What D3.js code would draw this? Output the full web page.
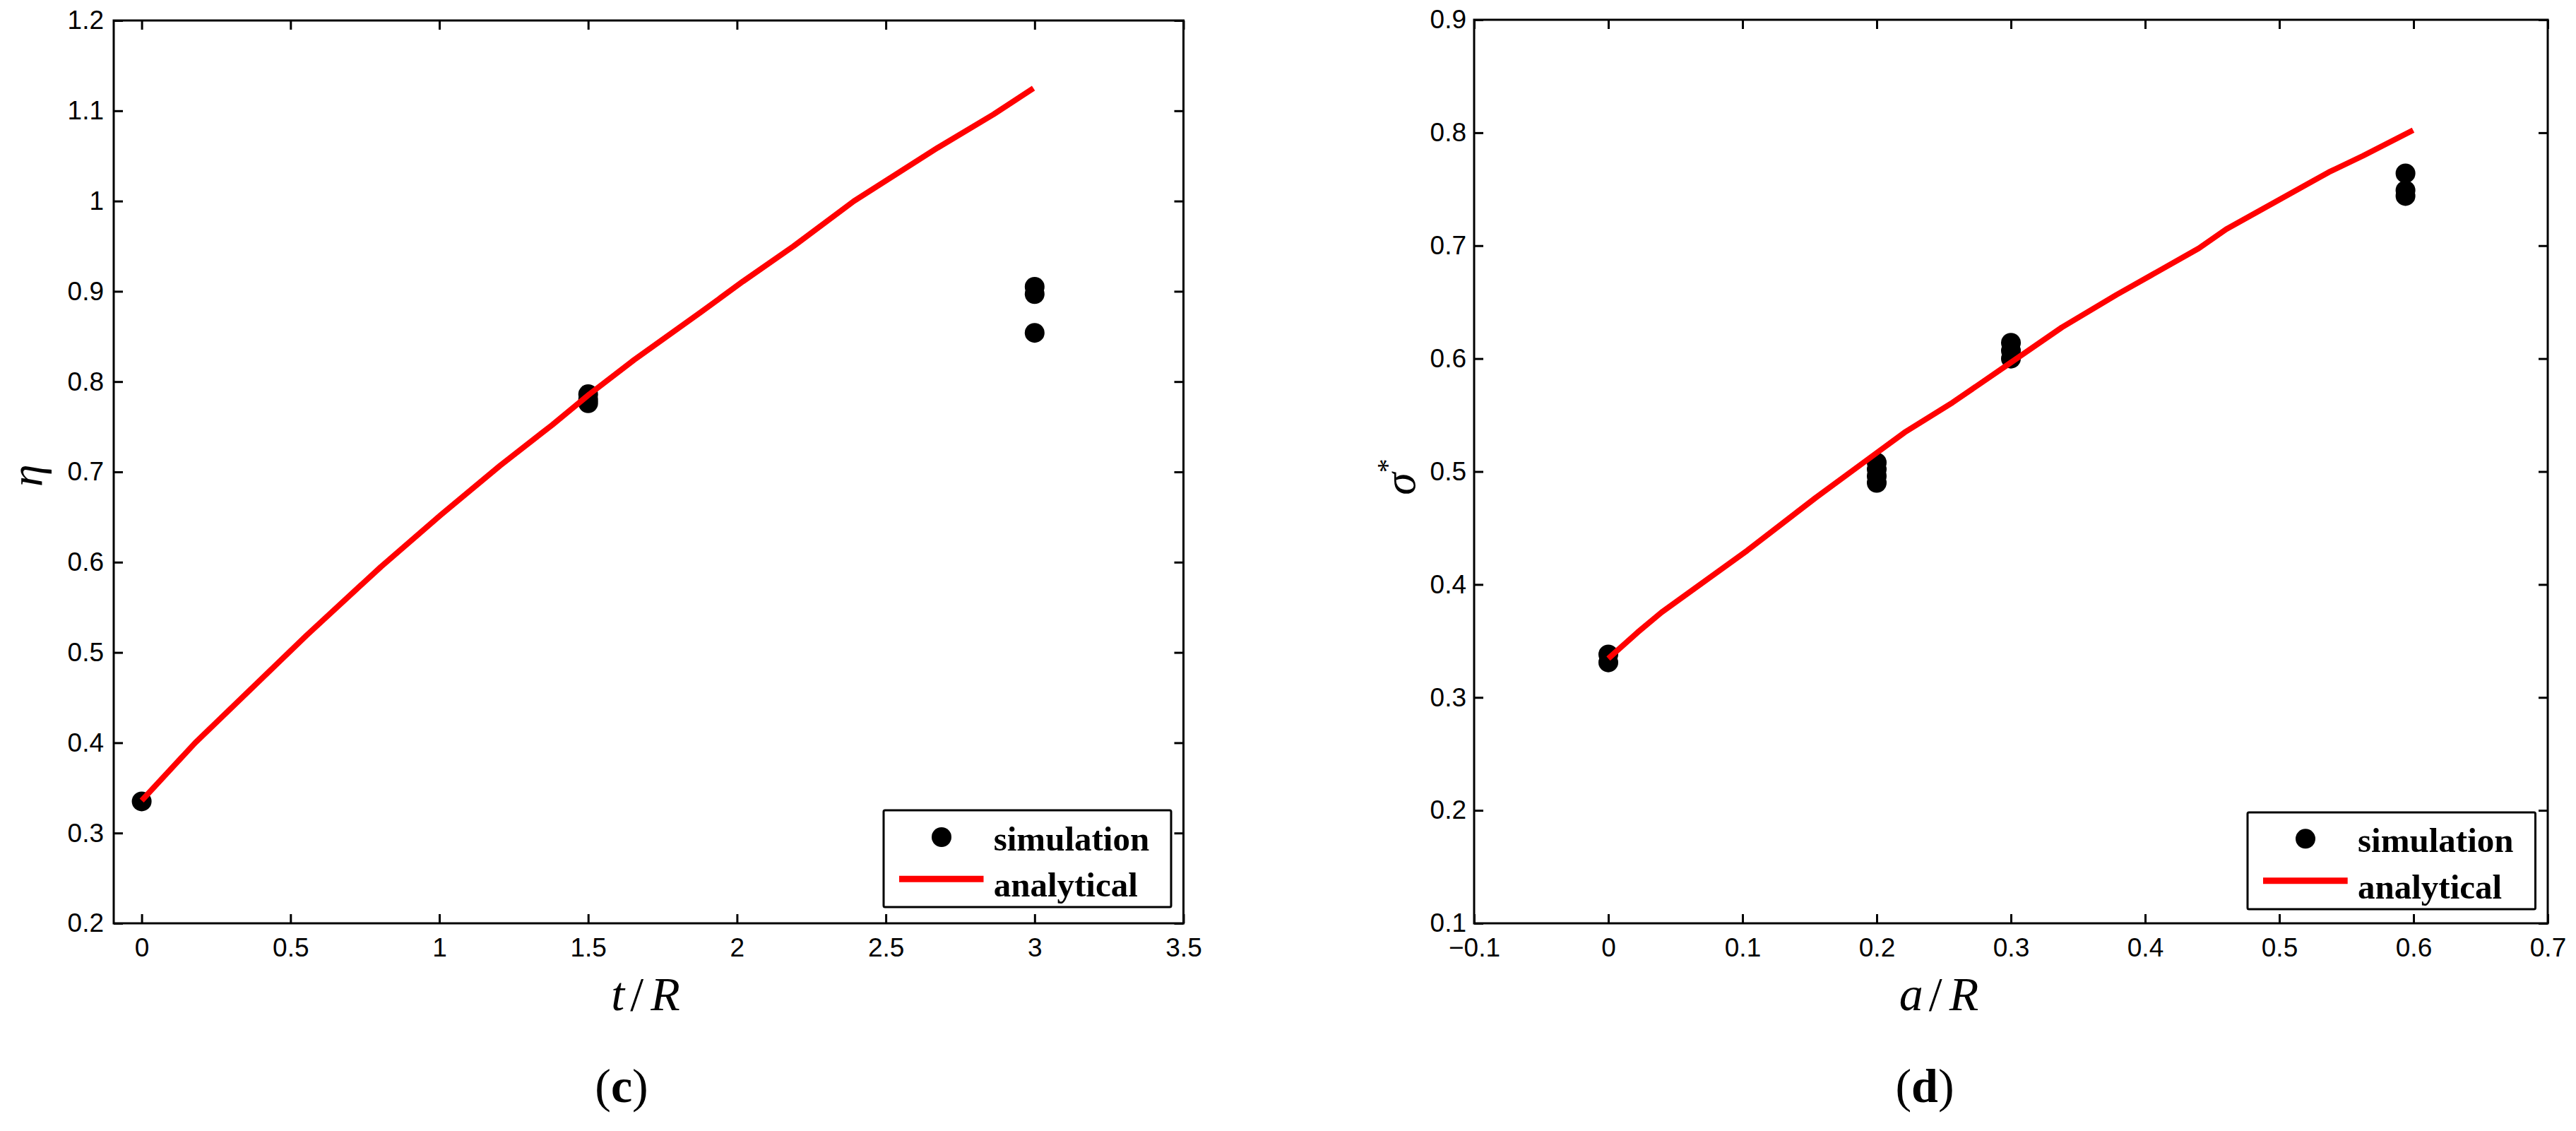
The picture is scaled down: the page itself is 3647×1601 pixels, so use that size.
<!DOCTYPE html>
<html>
<head>
<meta charset="utf-8">
<script src="https://cdn.jsdelivr.net/npm/d3@7"></script>
<style>
  html, body { margin: 0; padding: 0; background: #ffffff; }
  svg { display: block; }
</style>
</head>
<body>
<svg id="chart" width="3647" height="1601"></svg>
<script>
// ---------------- DATA ----------------
// Panel (c): eta vs t/R
const tCurve   = [0, 0.18, 0.554, 0.804, 1.004, 1.204, 1.379, 1.504, 1.654, 1.879, 2.02, 2.19, 2.393, 2.674, 2.862, 2.996];
const etaCurve = [0.336, 0.400, 0.519, 0.595, 0.652, 0.707, 0.752, 0.786, 0.824, 0.877, 0.911, 0.950, 1.000, 1.059, 1.096, 1.125];
const tSim     = [0, 1.5, 1.5, 1.5, 3, 3, 3];
const etaSim   = [0.335, 0.786, 0.780, 0.776, 0.905, 0.897, 0.854];

// Panel (d): sigma* vs a/R
const aCurve   = [0, 0.0218, 0.0397, 0.1034, 0.1544, 0.2003, 0.2207, 0.2565, 0.2998, 0.338, 0.3788, 0.44, 0.4604, 0.5369, 0.5624, 0.5997];
const sigCurve = [0.3344, 0.3576, 0.3754, 0.430, 0.4767, 0.5168, 0.5346, 0.5611, 0.5964, 0.6277, 0.6566, 0.6976, 0.7145, 0.7651, 0.7796, 0.8023];
const aSim     = [0, 0, 0.2, 0.2, 0.2, 0.2, 0.3, 0.3, 0.3, 0.594, 0.594, 0.594];
const sigSim   = [0.338, 0.331, 0.508, 0.502, 0.496, 0.490, 0.614, 0.607, 0.600, 0.764, 0.749, 0.744];

// Ticks
const xTicksC = [0, 0.5, 1, 1.5, 2, 2.5, 3, 3.5];
const yTicksC = [0.2, 0.3, 0.4, 0.5, 0.6, 0.7, 0.8, 0.9, 1, 1.1, 1.2];
const xTicksD = [-0.1, 0, 0.1, 0.2, 0.3, 0.4, 0.5, 0.6, 0.7];
const yTicksD = [0.1, 0.2, 0.3, 0.4, 0.5, 0.6, 0.7, 0.8, 0.9];

const legendLabels = ["simulation", "analytical"];
const panelLabels  = ["c", "d"];

// ---------------- DRAW ----------------
const svg = d3.select("#chart");
svg.append("rect").attr("width", 3647).attr("height", 1601).attr("fill", "#ffffff");

const fmt = d3.format("~g");

function panel(cfg) {
  const x = d3.scaleLinear().domain(cfg.xDomain).range([cfg.left, cfg.right]);
  const y = d3.scaleLinear().domain(cfg.yDomain).range([cfg.bottom, cfg.top]);
  const g = svg.append("g");

  const styleAxis = sel => {
    sel.select(".domain").remove();
    sel.selectAll(".tick line").attr("stroke", "#000").attr("stroke-width", 3);
    sel.selectAll(".tick text")
      .attr("fill", "#000")
      .attr("font-family", "'Liberation Sans', Arial, Helvetica, sans-serif")
      .attr("font-size", 37);
  };

  g.append("g").attr("transform", `translate(0,${cfg.bottom})`)
    .call(d3.axisBottom(x).tickValues(cfg.xTicks).tickSize(-13).tickPadding(21).tickFormat(fmt))
    .call(styleAxis);
  g.append("g").attr("transform", `translate(0,${cfg.top})`)
    .call(d3.axisTop(x).tickValues(cfg.xTicks).tickSize(-13).tickFormat(""))
    .call(styleAxis);
  g.append("g").attr("transform", `translate(${cfg.left},0)`)
    .call(d3.axisLeft(y).tickValues(cfg.yTicks).tickSize(-13).tickPadding(cfg.yPad).tickFormat(fmt))
    .call(styleAxis);
  g.append("g").attr("transform", `translate(${cfg.right},0)`)
    .call(d3.axisRight(y).tickValues(cfg.yTicks).tickSize(-13).tickFormat(""))
    .call(styleAxis);

  // frame
  g.append("rect")
    .attr("x", cfg.left).attr("y", cfg.top)
    .attr("width", cfg.right - cfg.left).attr("height", cfg.bottom - cfg.top)
    .attr("fill", "none").attr("stroke", "#000").attr("stroke-width", 3);

  // simulation markers
  g.selectAll("circle.sim").data(cfg.simX.map((v, i) => [v, cfg.simY[i]]))
    .enter().append("circle").attr("class", "sim")
    .attr("cx", d => x(d[0])).attr("cy", d => y(d[1])).attr("r", 14)
    .attr("fill", "#000");

  // analytical line
  const line = d3.line().x(d => x(d[0])).y(d => y(d[1]));
  g.append("path")
    .datum(cfg.curveX.map((v, i) => [v, cfg.curveY[i]]))
    .attr("d", line)
    .attr("fill", "none").attr("stroke", "#ff0000").attr("stroke-width", 8)
    .attr("stroke-linejoin", "round");

  // legend
  const L = cfg.legend;
  const lg = g.append("g");
  lg.append("rect").attr("x", L.x0).attr("y", L.y0)
    .attr("width", L.x1 - L.x0).attr("height", L.y1 - L.y0)
    .attr("rx", 2).attr("fill", "#fff").attr("stroke", "#000").attr("stroke-width", 3);
  lg.append("circle").attr("cx", L.mx).attr("cy", L.my).attr("r", 14).attr("fill", "#000");
  lg.append("line").attr("x1", L.lx0).attr("x2", L.lx1).attr("y1", L.ly).attr("y2", L.ly)
    .attr("stroke", "#ff0000").attr("stroke-width", 9);
  lg.selectAll("text.leg").data(legendLabels).enter().append("text")
    .attr("class", "leg")
    .attr("x", L.tx).attr("y", (d, i) => i === 0 ? L.tb0 : L.tb1)
    .attr("font-family", "'Liberation Serif', 'Times New Roman', serif")
    .attr("font-weight", "bold").attr("font-size", 49).attr("fill", "#000")
    .text(d => d);

  // x title
  const xt = svg.append("text")
    .attr("x", cfg.xTitleX).attr("y", 1430)
    .attr("text-anchor", "middle")
    .attr("font-family", "'Liberation Serif', 'Times New Roman', serif")
    .attr("font-size", 68).attr("fill", "#000");
  xt.append("tspan").attr("font-style", "italic").text(cfg.xVar);
  xt.append("tspan").attr("dx", 8).text("/");
  xt.append("tspan").attr("dx", 10).attr("font-style", "italic").text("R");

  // y title (rotated)
  const yt = svg.append("text")
    .attr("transform", `translate(${cfg.yTitleX},${cfg.yTitleY}) rotate(-90)`)
    .attr("text-anchor", "middle")
    .attr("font-family", "'Liberation Serif', 'Times New Roman', serif")
    .attr("font-size", 64).attr("fill", "#000");
  yt.append("tspan").attr("font-style", "italic").text(cfg.yVar);
  if (cfg.ySup) {
    yt.append("tspan").attr("font-size", 40).attr("dy", -26).text(cfg.ySup);
  }

  // panel label
  const pl = svg.append("text")
    .attr("x", cfg.labelX).attr("y", 1560)
    .attr("text-anchor", "middle")
    .attr("font-family", "'Liberation Serif', 'Times New Roman', serif")
    .attr("font-size", 68).attr("fill", "#000");
  pl.append("tspan").text("(");
  pl.append("tspan").attr("font-weight", "bold").text(cfg.label);
  pl.append("tspan").text(")");
}

panel({
  xDomain: [-0.094, 3.5], yDomain: [0.2, 1.2],
  left: 161, right: 1675.5, top: 29, bottom: 1307,
  xTicks: xTicksC, yTicks: yTicksC, yPad: 14,
  curveX: tCurve, curveY: etaCurve, simX: tSim, simY: etaSim,
  legend: { x0: 1251, x1: 1658, y0: 1147, y1: 1284, mx: 1333, my: 1185,
            lx0: 1273, lx1: 1392.5, ly: 1244.3, tx: 1406.7, tb0: 1204.3, tb1: 1269.3 },
  xVar: "t", xTitleX: 914,
  yVar: "\u03B7", ySup: null, yTitleX: 59, yTitleY: 673,
  label: panelLabels[0], labelX: 880
});

panel({
  xDomain: [-0.1, 0.7], yDomain: [0.1, 0.9],
  left: 2087, right: 3607, top: 28, bottom: 1307,
  xTicks: xTicksD, yTicks: yTicksD, yPad: 11,
  curveX: aCurve, curveY: sigCurve, simX: aSim, simY: sigSim,
  legend: { x0: 3182, x1: 3589.5, y0: 1150, y1: 1287, mx: 3264, my: 1187.3,
            lx0: 3204, lx1: 3323.7, ly: 1246.7, tx: 3338, tb0: 1206, tb1: 1271.7 },
  xVar: "a", xTitleX: 2745,
  yVar: "\u03C3", ySup: "*", yTitleX: 2003, yTitleY: 675,
  label: panelLabels[1], labelX: 2725
});
</script>
</body>
</html>
